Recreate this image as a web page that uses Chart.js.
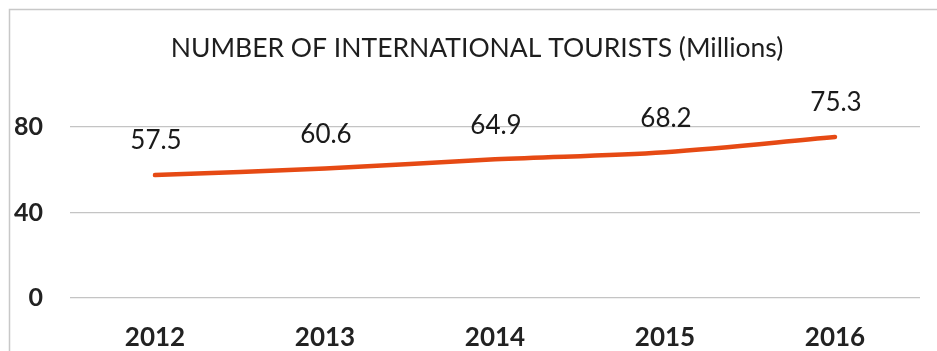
<!DOCTYPE html>
<html>
<head>
<meta charset="utf-8">
<script src="https://cdn.jsdelivr.net/npm/chart.js@4/dist/chart.umd.min.js"></script>
<style>
  html, body { margin: 0; padding: 0; background: #ffffff; }
  #wrap { width: 937px; height: 351px; position: relative; }
</style>
</head>
<body>
<div id="wrap"><canvas id="chart"></canvas></div>
<script>
// International tourist arrivals, in millions
const years = ['2012', '2013', '2014', '2015', '2016'];
const tourists = [57.5, 60.6, 64.9, 68.2, 75.3];
const yTicks = [0, 40, 80];
const chartTitle = 'NUMBER OF INTERNATIONAL TOURISTS (Millions)';

const FONT = 'Lato, "Open Sans", sans-serif';
const LINE_COLOR = '#E64A14';

// White background, thin frame and the heading
const framePlugin = {
  id: 'frame',
  beforeDraw(chart) {
    const ctx = chart.ctx;
    ctx.save();
    ctx.fillStyle = '#ffffff';
    ctx.fillRect(0, 0, chart.width, chart.height);
    ctx.strokeStyle = '#c8c8c8';
    ctx.lineWidth = 1.5;
    ctx.strokeRect(9.5, 9.5, chart.width + 20, chart.height + 20);
    ctx.font = '26.5px ' + FONT;
    ctx.fillStyle = '#1e1e1e';
    ctx.textAlign = 'center';
    ctx.textBaseline = 'middle';
    ctx.fillText(chartTitle, 477, 48);
    ctx.restore();
  }
};

// Value labels above each point
const valueLabels = {
  id: 'valueLabels',
  afterDatasetsDraw(chart) {
    const ctx = chart.ctx;
    const meta = chart.getDatasetMeta(0);
    const data = chart.data.datasets[0].data;
    ctx.save();
    ctx.font = '26px ' + FONT;
    ctx.fillStyle = '#1a1a1a';
    ctx.textAlign = 'center';
    ctx.textBaseline = 'middle';
    meta.data.forEach((pt, i) => {
      ctx.fillText(data[i].toFixed(1), pt.x + 1, pt.y - 34);
    });
    ctx.restore();
  }
};

new Chart(document.getElementById('chart'), {
  type: 'line',
  data: {
    labels: years,
    datasets: [{
      data: tourists,
      borderColor: LINE_COLOR,
      borderWidth: 4.5,
      borderCapStyle: 'round',
      pointRadius: 0,
      pointHoverRadius: 0,
      tension: 0.35,
      fill: false
    }]
  },
  options: {
    responsive: true,
    maintainAspectRatio: false,
    animation: false,
    events: [],
    layout: { padding: { left: 0, right: 17, top: 127, bottom: 0 } },
    plugins: {
      legend: { display: false },
      tooltip: { enabled: false },
      title: { display: false }
    },
    scales: {
      x: {
        offset: true,
        grid: { display: false, drawTicks: false },
        border: { display: false },
        ticks: {
          color: '#222222',
          font: { family: FONT, size: 26, weight: 'bold' },
          padding: 24,
          maxRotation: 0
        },
        afterFit(axis) { axis.height = 53; }
      },
      y: {
        min: 0,
        max: 80,
        afterBuildTicks(axis) { axis.ticks = yTicks.map(v => ({ value: v })); },
        grid: { color: '#c4c4c4', lineWidth: 1.2, drawTicks: false },
        border: { display: false },
        ticks: {
          color: '#222222',
          font: { family: FONT, size: 25, weight: 'bold' },
          padding: 27
        },
        afterFit(axis) { axis.width = 70; }
      }
    }
  },
  plugins: [framePlugin, valueLabels]
});
</script>
</body>
</html>
